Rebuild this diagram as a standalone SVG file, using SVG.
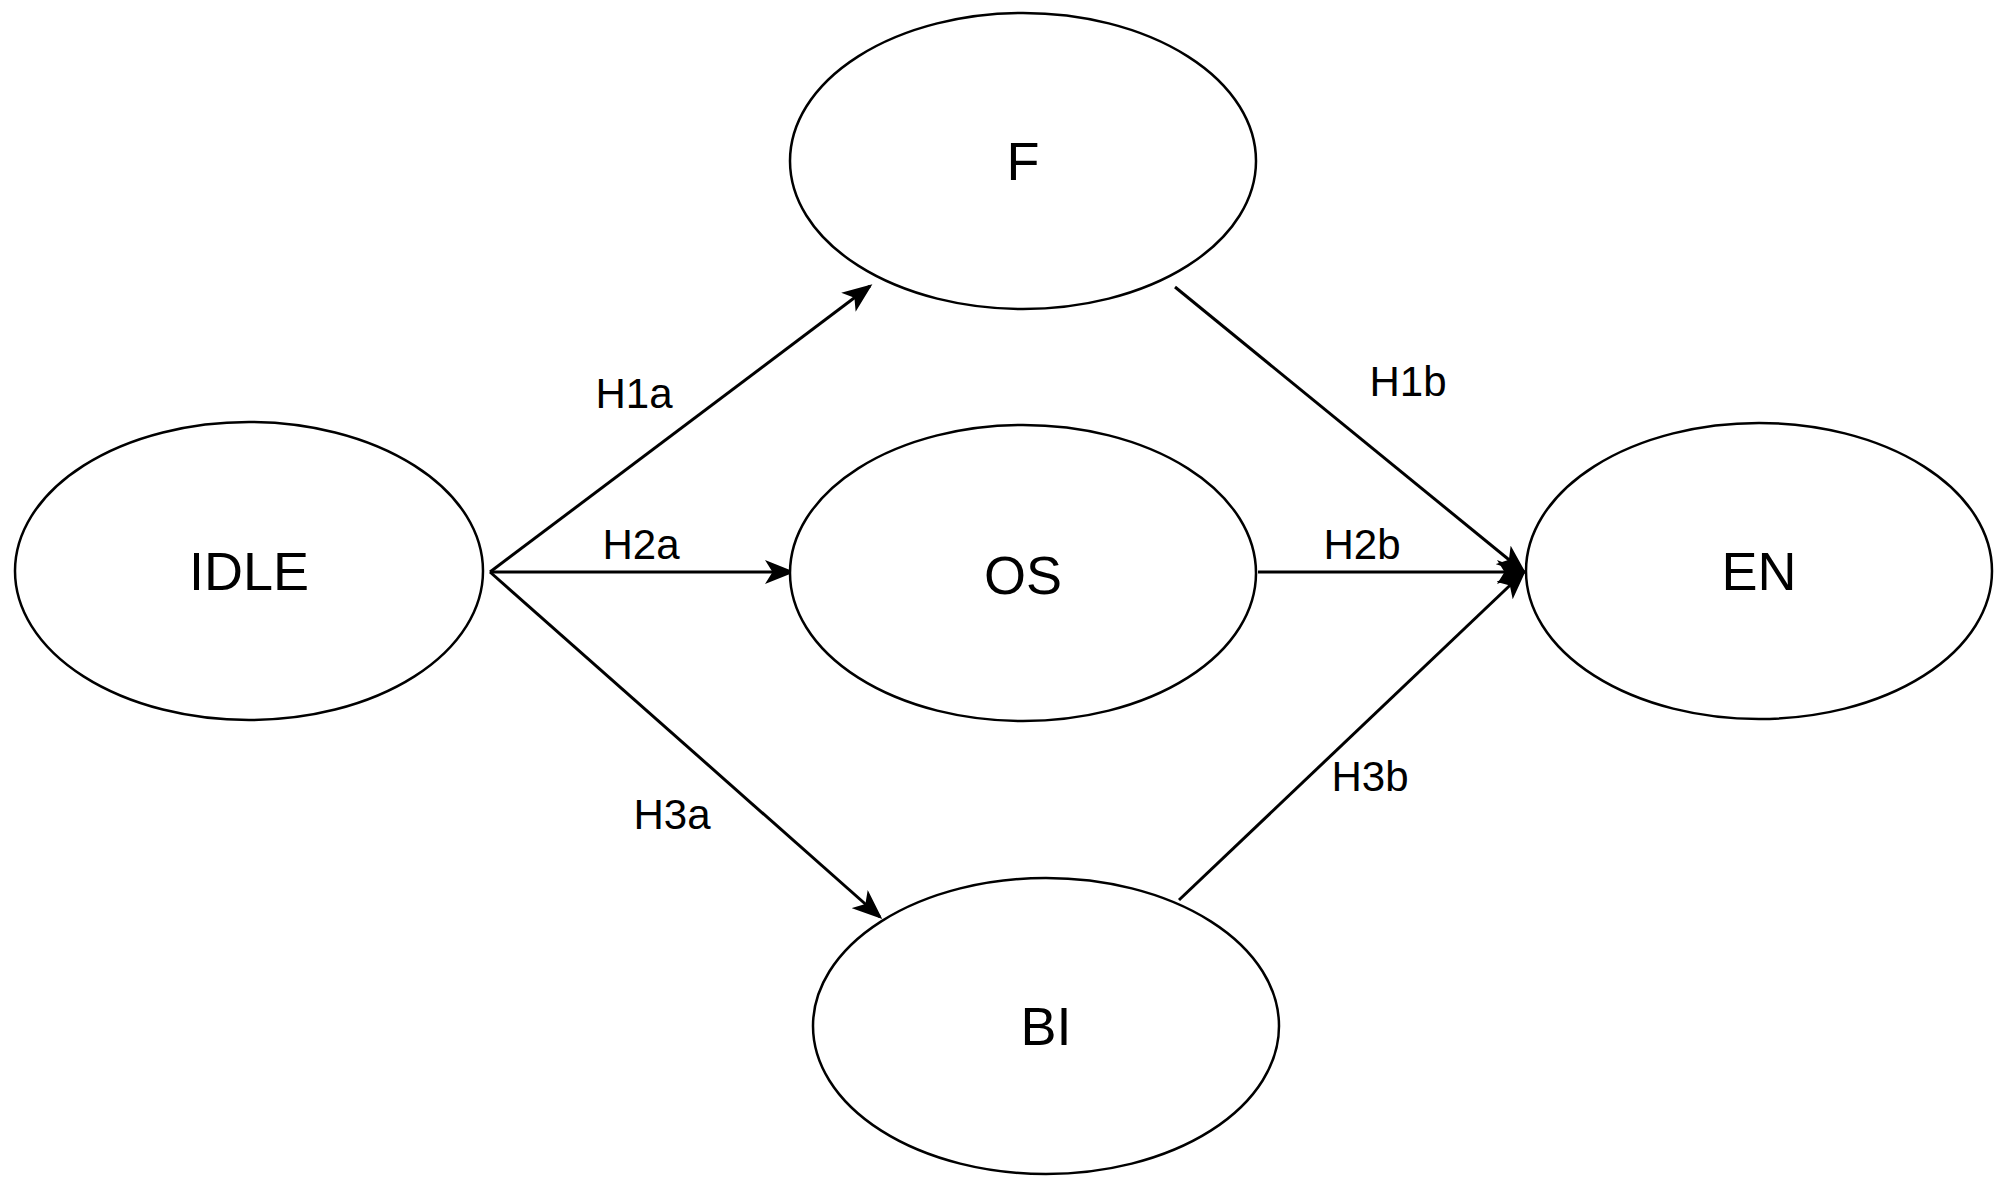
<svg xmlns="http://www.w3.org/2000/svg" width="2006" height="1193" viewBox="0 0 2006 1193">
<style>
.n{fill:#fff;stroke:#000;stroke-width:2.5}
.t{font-family:"Liberation Sans",Arial,sans-serif;font-size:54px;text-anchor:middle;dominant-baseline:central}
.l{font-family:"Liberation Sans",Arial,sans-serif;font-size:42px;text-anchor:middle;dominant-baseline:central}
.e{stroke:#000;stroke-width:3;fill:none;marker-end:url(#a)}
</style>
<defs><marker id="a" markerWidth="10" markerHeight="8" refX="9" refY="4" orient="auto" markerUnits="strokeWidth"><path d="M0,0 L10,4 L0,8 L2.5,4 Z" fill="#000"/></marker></defs>
<rect width="2006" height="1193" fill="#fff"/>
<g id="connectors">
<path class="e" d="M490,572 L870,286"/>
<path class="e" d="M490,572 L792,572"/>
<path class="e" d="M490,572 L880,917"/>
<path class="e" d="M1175,287 L1524,572"/>
<path class="e" d="M1258,572 L1524,572"/>
<path class="e" d="M1179,900 L1524,572"/>
</g>
<g id="labels">
<text class="l" x="634" y="393">H1a</text>
<text class="l" x="641" y="544">H2a</text>
<text class="l" x="672" y="814">H3a</text>
<text class="l" x="1408" y="381">H1b</text>
<text class="l" x="1362" y="544">H2b</text>
<text class="l" x="1370" y="776">H3b</text>
</g>
<g id="IDLE"><ellipse class="n" cx="249" cy="571" rx="234" ry="149"/><text class="t" x="249" y="571">IDLE</text></g>
<g id="F"><ellipse class="n" cx="1023" cy="161" rx="233" ry="148"/><text class="t" x="1023" y="161">F</text></g>
<g id="OS"><ellipse class="n" cx="1023" cy="573" rx="233" ry="148"/><text class="t" x="1023" y="575">OS</text></g>
<g id="EN"><ellipse class="n" cx="1759" cy="571" rx="233" ry="148"/><text class="t" x="1759" y="571">EN</text></g>
<g id="BI"><ellipse class="n" cx="1046" cy="1026" rx="233" ry="148"/><text class="t" x="1046" y="1026">BI</text></g>
</svg>
